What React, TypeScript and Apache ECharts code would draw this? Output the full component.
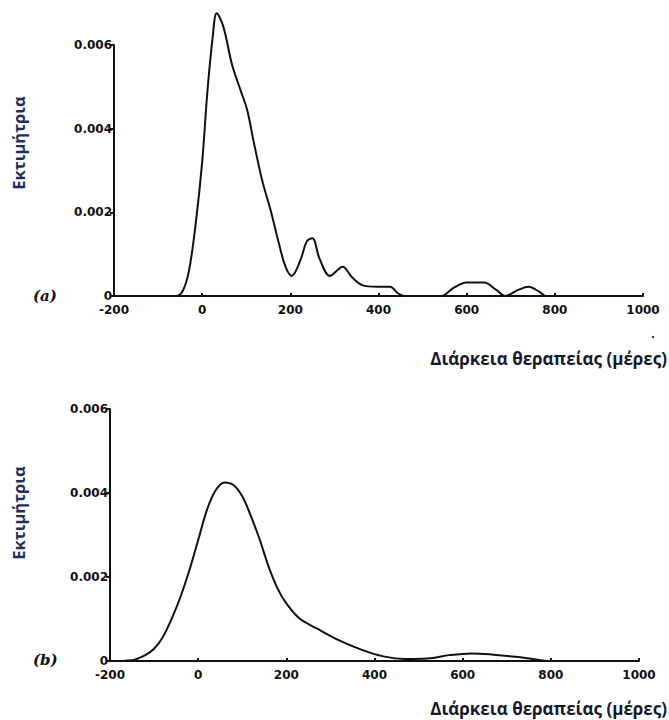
import React, { useEffect, useRef } from "react";
import * as echarts from "echarts";

// Panel (a) kernel density estimate: treatment duration (days) vs density
const daysA = [-200, -60, -45, -30, -15, 0, 12, 24, 33, 48, 68, 87, 102, 116, 136, 155, 174, 189, 203, 223, 237, 250, 266, 290, 319, 339, 363, 397, 426, 445, 460, 542, 571, 600, 639, 668, 687, 716, 740, 765, 780, 1000];
const densityA = [0, 0, 0.0001, 0.0006, 0.0017, 0.0032, 0.0049, 0.0062, 0.00676, 0.00644, 0.00552, 0.00492, 0.00445, 0.00373, 0.00277, 0.00206, 0.00126, 0.0007, 0.00048, 0.00086, 0.0013, 0.00138, 0.0009, 0.00048, 0.0007, 0.00046, 0.00026, 0.00022, 0.00022, 0.00006, 0, 0, 0.0002, 0.00032, 0.00032, 0.00014, 0, 0.00014, 0.00022, 0.0001, 0, 0];

// Panel (b)
const daysB = [-200, -150, -120, -100, -80, -60, -40, -20, 0, 20, 40, 60, 80, 100, 120, 140, 160, 180, 200, 230, 270, 320, 370, 420, 470, 520, 570, 620, 670, 720, 770, 800, 1000];
const densityB = [0, 0.00002, 0.00014, 0.00029, 0.00057, 0.00101, 0.00153, 0.00216, 0.00288, 0.0036, 0.00407, 0.00425, 0.00419, 0.00392, 0.00344, 0.00288, 0.00224, 0.00173, 0.00137, 0.00101, 0.00077, 0.00049, 0.00027, 0.00011, 0.00005, 0.00006, 0.00014, 0.00018, 0.00015, 0.0001, 0.00003, 0, 0];

const yTickLabels = ["0", "0.002", "0.004", "0.006"];
const xTitle = "Διάρκεια θεραπείας (μέρες)";
const yTitle = "Εκτιμήτρια";
const panelLabels = ["(a)", "(b)"];

const tickFont = { fontFamily: "DejaVu Sans", fontWeight: "bold" as const, fontSize: 12, color: "#111" };

function xAxisCfg(gridIndex: number) {
  return {
    type: "value" as const,
    gridIndex,
    min: -200,
    max: 1000,
    interval: 200,
    axisLine: { onZero: false, lineStyle: { color: "#111", width: 2 } },
    axisTick: { inside: true, length: 3, lineStyle: { color: "#111", width: 2 } },
    axisLabel: { ...tickFont, margin: 8, formatter: (v: number) => String(v) },
    splitLine: { show: false },
  };
}

function yAxisCfg(gridIndex: number) {
  return {
    type: "value" as const,
    gridIndex,
    min: 0,
    max: 0.006,
    interval: 0.002,
    axisLine: { show: true, onZero: false, lineStyle: { color: "#111", width: 2 } },
    axisTick: { show: true, length: 4, lineStyle: { color: "#111", width: 2 } },
    axisLabel: {
      ...tickFont,
      margin: 2,
      formatter: (v: number) => {
        const i = Math.round(v / 0.002);
        return yTickLabels[i] ?? String(v);
      },
    },
    splitLine: { show: false },
  };
}

export default function App() {
  const ref = useRef<HTMLDivElement>(null);
  useEffect(() => {
    if (!ref.current) return;
    const chart = echarts.init(ref.current, null, { renderer: "svg" });
    const yTitleFont = "bold 16.5px 'Open Sans'";
    const xTitleFont = "bold 17px 'Open Sans'";
    chart.setOption({
      animation: false,
      backgroundColor: "#fff",
      grid: [
        { left: 114, right: 26, top: 45, height: 251 },
        { left: 110, right: 30, top: 409, height: 252 },
      ],
      xAxis: [xAxisCfg(0), xAxisCfg(1)],
      yAxis: [yAxisCfg(0), yAxisCfg(1)],
      series: [
        {
          type: "line",
          xAxisIndex: 0,
          yAxisIndex: 0,
          data: daysA.map((d, i) => [d, densityA[i]]),
          smooth: 0.35,
          showSymbol: false,
          clip: false,
          lineStyle: { color: "#111", width: 2 },
        },
        {
          type: "line",
          xAxisIndex: 1,
          yAxisIndex: 1,
          data: daysB.map((d, i) => [d, densityB[i]]),
          smooth: 0.35,
          showSymbol: false,
          clip: false,
          lineStyle: { color: "#111", width: 2 },
        },
      ],
      graphic: [
        {
          type: "text",
          x: 18,
          y: 143,
          rotation: Math.PI / 2,
          style: { text: yTitle, font: yTitleFont, fill: "#1c2f5e", align: "center", verticalAlign: "middle" },
        },
        {
          type: "text",
          x: 18,
          y: 513,
          rotation: Math.PI / 2,
          style: { text: yTitle, font: yTitleFont, fill: "#1c2f5e", align: "center", verticalAlign: "middle" },
        },
        {
          type: "text",
          x: 667,
          y: 358,
          style: { text: xTitle, font: xTitleFont, fill: "#141a2a", align: "right", verticalAlign: "middle" },
        },
        {
          type: "text",
          x: 667,
          y: 708,
          style: { text: xTitle, font: xTitleFont, fill: "#141a2a", align: "right", verticalAlign: "middle" },
        },
        {
          type: "circle",
          shape: { cx: 653, cy: 337, r: 1.2 },
          style: { fill: "#1c2f5e" },
        },
        {
          type: "text",
          x: 33,
          y: 296,
          style: { text: panelLabels[0], font: "italic bold 15px 'DejaVu Serif'", fill: "#111", align: "left", verticalAlign: "middle" },
        },
        {
          type: "text",
          x: 33,
          y: 660,
          style: { text: panelLabels[1], font: "italic bold 15px 'DejaVu Serif'", fill: "#111", align: "left", verticalAlign: "middle" },
        },
      ],
    });
    return () => chart.dispose();
  }, []);
  return <div ref={ref} style={{ position: "fixed", left: 0, top: 0, width: 669, height: 720 }} />;
}
